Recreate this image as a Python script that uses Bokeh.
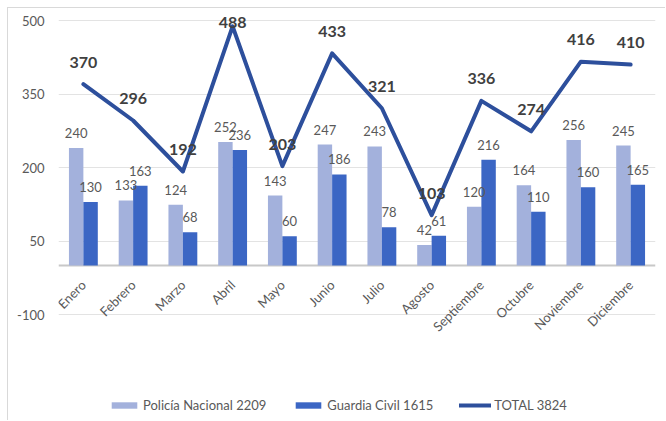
from bokeh.plotting import figure
from bokeh.models import (ColumnDataSource, FactorRange, Range1d, FixedTicker, Legend, LegendItem,
                          Span, PrintfTickFormatter)
from bokeh.transform import dodge
from bokeh.core.properties import value
from bokeh.embed import file_html
from bokeh.resources import INLINE
import math

months = ["Enero", "Febrero", "Marzo", "Abril", "Mayo", "Junio", "Julio",
          "Agosto", "Septiembre", "Octubre", "Noviembre", "Diciembre"]
policia = [240, 133, 124, 252, 143, 247, 243, 42, 120, 164, 256, 245]
guardia = [130, 163, 68, 236, 60, 186, 78, 61, 216, 110, 160, 165]
total = [370, 296, 192, 488, 203, 433, 321, 103, 336, 274, 416, 410]
y_ticks = [-100, 50, 200, 350, 500]
legend_labels = ["Policía Nacional 2209", "Guardia Civil 1615", "TOTAL 3824"]

FONT = "Lato"
LIGHT = "#a3b1dc"
DARK = "#3b66c4"
LINE = "#2d4f9c"

src = ColumnDataSource(dict(
    month=months, policia=policia, guardia=guardia, total=total,
    total_lbl=[min(t + 45, 496) for t in total],
    zero=[0] * len(months),
))

p = figure(width=658, height=413, output_backend="svg", toolbar_location=None,
           x_range=FactorRange(*months, range_padding=0),
           y_range=Range1d(-318.0, 520.4),
           min_border_left=50, min_border_right=11, min_border_top=2, min_border_bottom=0)
p.styles = {"margin-left": "7px", "margin-top": "7px",
            "border-top": "1px solid #d9d9d9", "border-left": "1px solid #d9d9d9"}
p.outline_line_color = None
p.xaxis.visible = False
p.xgrid.grid_line_color = None
p.ygrid.grid_line_color = "#e3e3e3"
p.ygrid.grid_line_width = 1
p.yaxis.ticker = FixedTicker(ticks=y_ticks)
p.yaxis.formatter = PrintfTickFormatter(format="%d")
p.yaxis.axis_line_color = None
p.yaxis.major_tick_line_color = None
p.yaxis.minor_tick_line_color = None
p.yaxis.major_label_standoff = 8
p.yaxis.major_label_text_font = FONT
p.yaxis.major_label_text_font_size = "13px"
p.yaxis.major_label_text_color = "#595959"

p.add_layout(Span(location=0, dimension="width", line_color="#c8c8c8", line_width=2, level="underlay"))

bw = 0.29
r1 = p.vbar(x=dodge("month", -bw / 2, range=p.x_range), top="policia", width=bw,
            source=src, fill_color=LIGHT, line_color=None)
r2 = p.vbar(x=dodge("month", bw / 2, range=p.x_range), top="guardia", width=bw,
            source=src, fill_color=DARK, line_color=None)

p.text(x=dodge("month", -bw / 2, range=p.x_range), y="policia", text="policia", source=src,
       text_align="center", text_baseline="alphabetic", y_offset=-15,
       text_font=value(FONT), text_font_size="13px", text_color="#595959")
p.text(x=dodge("month", bw / 2, range=p.x_range), y="guardia", text="guardia", source=src,
       text_align="center", text_baseline="alphabetic", y_offset=-15,
       text_font=value(FONT), text_font_size="13px", text_color="#595959")

r3 = p.line(x="month", y="total", source=src, line_color=LINE, line_width=4,
            line_join="round", line_cap="round")

p.text(x="month", y="total_lbl", text="total", source=src,
       text_align="center", text_baseline="alphabetic",
       text_font=value(FONT), text_font_size="16px", text_font_style="bold", text_color="#404040")

p.text(x="month", y="zero", text="month", source=src, angle=math.pi / 4,
       text_align="right", text_baseline="middle", x_offset=0, y_offset=17,
       text_font=value(FONT), text_font_size="13px", text_color="#595959")

legend = Legend(items=[LegendItem(label=legend_labels[0], renderers=[r1]),
                       LegendItem(label=legend_labels[1], renderers=[r2]),
                       LegendItem(label=legend_labels[2], renderers=[r3])],
                location=(50, 8), orientation="horizontal",
                background_fill_alpha=0, border_line_color=None,
                padding=0, margin=0, spacing=26, label_standoff=3,
                glyph_width=32, glyph_height=8, label_height=16,
                label_text_font=FONT, label_text_font_size="13px", label_text_color="#595959")
p.add_layout(legend)

open("out.html", "w").write(file_html(p, INLINE))
